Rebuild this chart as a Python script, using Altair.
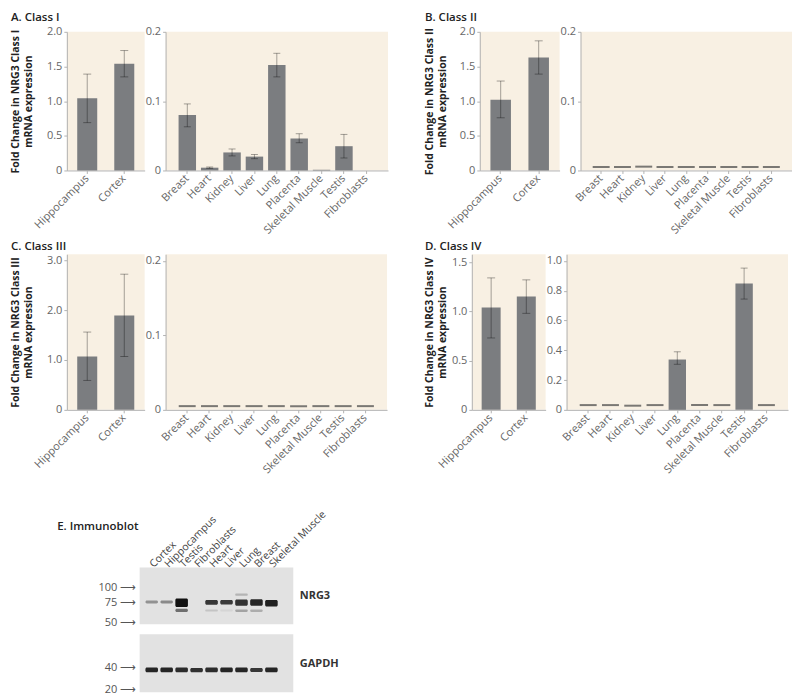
import altair as alt
import pandas as pd

FONT = "Open Sans"
BEIGE = "#f8f0e3"
BAR_GRAY = "#7b7d80"
ERR = "#000000"
ND_COLOR = "#444444"
BLOT_BG = "#e2e2e2"

brain_regions = ["Hippocampus", "Cortex"]
tissues = ["Breast", "Heart", "Kidney", "Liver", "Lung", "Placenta",
           "Skeletal Muscle", "Testis", "Fibroblasts"]

# ---- Class I ----
c1_brain_mean = [1.04, 1.54]
c1_brain_lo = [0.69, 1.35]
c1_brain_hi = [1.39, 1.73]
c1_tis_mean = [0.080, 0.004, 0.026, 0.020, 0.152, 0.046, 0.001, 0.035, 0.0]
c1_tis_lo = [0.063, 0.003, 0.021, 0.017, 0.135, 0.040, None, 0.018, None]
c1_tis_hi = [0.096, 0.005, 0.031, 0.023, 0.169, 0.053, None, 0.052, None]
c1_tis_detected = [True, True, True, True, True, True, True, True, True]

# ---- Class II ----
c2_brain_mean = [1.02, 1.63]
c2_brain_lo = [0.76, 1.39]
c2_brain_hi = [1.29, 1.87]
c2_tis_mean = [0.005, 0.005, 0.0055, 0.005, 0.005, 0.005, 0.005, 0.005, 0.005]
c2_tis_lo = [None, None, None, None, None, None, None, None, None]
c2_tis_hi = [None, None, None, None, None, None, None, None, None]
c2_tis_detected = [False, False, False, False, False, False, False, False, False]

# ---- Class III ----
c3_brain_mean = [1.07, 1.89]
c3_brain_lo = [0.59, 1.07]
c3_brain_hi = [1.56, 2.72]
c3_tis_mean = [0.005, 0.005, 0.005, 0.005, 0.005, 0.005, 0.005, 0.005, 0.005]
c3_tis_lo = [None, None, None, None, None, None, None, None, None]
c3_tis_hi = [None, None, None, None, None, None, None, None, None]
c3_tis_detected = [False, False, False, False, False, False, False, False, False]

# ---- Class IV ----
c4_brain_mean = [1.04, 1.15]
c4_brain_lo = [0.73, 0.98]
c4_brain_hi = [1.34, 1.32]
c4_tis_mean = [0.032, 0.032, 0.028, 0.032, 0.338, 0.032, 0.032, 0.848, 0.032]
c4_tis_lo = [None, None, None, None, 0.306, None, None, 0.744, None]
c4_tis_hi = [None, None, None, None, 0.390, None, None, 0.952, None]
c4_tis_detected = [False, False, False, False, True, False, False, True, False]

# ---- Immunoblot ----
lanes = ["Cortex", "Hippocampus", "Testis", "Fibroblasts", "Heart", "Liver",
         "Lung", "Breast", "Skeletal Muscle"]
nrg3_main = [0.38, 0.42, 1.0, 0.0, 0.82, 0.8, 0.84, 0.9, 0.93]
nrg3_main_lo = [73, 73, 68, 73, 71, 71.5, 69.5, 69.5, 68.5]
nrg3_main_hi = [77.5, 77.5, 80.5, 77.5, 78, 78, 79, 79.5, 78]
nrg3_lower = [0.0, 0.0, 0.55, 0.0, 0.14, 0.06, 0.3, 0.25, 0.0]
nrg3_lower_lo = [62, 62, 61.5, 62, 62, 62, 61.5, 61.5, 62]
nrg3_lower_hi = [65, 65, 65.5, 65, 64.5, 64.5, 64.5, 64.5, 65]
nrg3_upper = [0.0, 0.0, 0.0, 0.0, 0.0, 0.0, 0.22, 0.0, 0.0]
nrg3_upper_lo = [85, 85, 85, 85, 85, 85, 85, 85, 85]
nrg3_upper_hi = [89, 89, 89, 89, 89, 89, 89, 89, 89]
gapdh = [0.9, 0.9, 0.88, 0.85, 0.88, 0.9, 0.9, 0.82, 0.9]
gapdh_lo = [34, 34, 34, 34, 34, 34, 34, 34.5, 34]
gapdh_hi = [39.5, 39.5, 39.5, 39, 39.5, 39.5, 39.5, 39, 39.5]
markers_nrg3 = [100, 75, 50]
markers_gapdh = [40, 20]

LBL = "datum.value == 0 ? '0' : format(datum.value, '.1f')"


def brain_chart(mean, lo, hi, ymax, ticks, ytitle, width, height, tpad):
    df = pd.DataFrame({"region": brain_regions, "mean": mean, "lo": lo, "hi": hi})
    x = alt.X("region:N", title=None,
              scale=alt.Scale(domain=brain_regions, paddingInner=0.46, paddingOuter=0.28),
              axis=alt.Axis(labelAngle=-45, labelAlign="right", labelBaseline="middle",
                            labelPadding=3))
    ysc = alt.Scale(domain=[0, ymax], nice=False)
    yax = alt.Axis(values=ticks, labelExpr=LBL, title=ytitle, labelOverlap=False,
                   titlePadding=tpad, minExtent=22, maxExtent=22)
    base = alt.Chart(df)
    bars = base.mark_bar(color=BAR_GRAY).encode(
        x=x, y=alt.Y("mean:Q", scale=ysc, axis=yax))
    rule = base.mark_rule(color=ERR, opacity=0.35).encode(
        x=x, y=alt.Y("lo:Q", scale=ysc, axis=yax), y2="hi:Q")
    cap1 = base.mark_tick(color=ERR, opacity=0.35, size=8, thickness=1).encode(
        x=x, y=alt.Y("lo:Q", scale=ysc, axis=yax))
    cap2 = base.mark_tick(color=ERR, opacity=0.35, size=8, thickness=1).encode(
        x=x, y=alt.Y("hi:Q", scale=ysc, axis=yax))
    return alt.layer(bars, rule, cap1, cap2).properties(
        width=width, height=height, view=alt.ViewBackground(fill=BEIGE))


def tissue_chart(mean, lo, hi, detected, ymax, ticks, width, height):
    df = pd.DataFrame({"tissue": tissues, "mean": mean, "lo": lo, "hi": hi,
                       "detected": detected})
    x = alt.X("tissue:N", title=None,
              scale=alt.Scale(domain=tissues, paddingInner=0.22, paddingOuter=0.58),
              axis=alt.Axis(labelAngle=-45, labelAlign="right", labelBaseline="middle",
                            labelPadding=3))
    ysc = alt.Scale(domain=[0, ymax], nice=False)
    yax = alt.Axis(values=ticks, labelExpr=LBL, title=None, labelOverlap=False,
                   minExtent=20, maxExtent=20)
    base = alt.Chart(df)
    bars = base.transform_filter("datum.detected").mark_bar(color=BAR_GRAY).encode(
        x=x, y=alt.Y("mean:Q", scale=ysc, axis=yax))
    nd = base.transform_filter("!datum.detected").mark_tick(
        color=ND_COLOR, size=17, thickness=2).encode(
        x=x, y=alt.Y("mean:Q", scale=ysc, axis=yax))
    det = base.transform_filter("datum.detected")
    rule = det.mark_rule(color=ERR, opacity=0.35).encode(
        x=x, y=alt.Y("lo:Q", scale=ysc, axis=yax), y2="hi:Q")
    cap1 = det.mark_tick(color=ERR, opacity=0.35, size=7, thickness=1).encode(
        x=x, y=alt.Y("lo:Q", scale=ysc, axis=yax))
    cap2 = det.mark_tick(color=ERR, opacity=0.35, size=7, thickness=1).encode(
        x=x, y=alt.Y("hi:Q", scale=ysc, axis=yax))
    return alt.layer(bars, nd, rule, cap1, cap2).properties(
        width=width, height=height, view=alt.ViewBackground(fill=BEIGE))


def panel(title, brain, tissue):
    return alt.hconcat(brain, tissue, spacing=0,
                       title=alt.Title(title, anchor="start", offset=2))


def ytitle(c):
    return ["Fold Change in NRG3 Class " + c, "mRNA expression"]


pA = panel("A. Class I",
           brain_chart(c1_brain_mean, c1_brain_lo, c1_brain_hi, 2.0, [0, 0.5, 1.0, 1.5, 2.0],
                       ytitle("I"), 78, 139, 11),
           tissue_chart(c1_tis_mean, c1_tis_lo, c1_tis_hi, c1_tis_detected, 0.2, [0, 0.1, 0.2],
                        223, 139))
pB = panel("B. Class II",
           brain_chart(c2_brain_mean, c2_brain_lo, c2_brain_hi, 2.0, [0, 0.5, 1.0, 1.5, 2.0],
                       ytitle("II"), 80, 139, 10),
           tissue_chart(c2_tis_mean, c2_tis_lo, c2_tis_hi, c2_tis_detected, 0.2, [0, 0.1, 0.2],
                        212, 139))
pC = panel("C. Class III",
           brain_chart(c3_brain_mean, c3_brain_lo, c3_brain_hi, 3.12, [0, 1.0, 2.0, 3.0],
                       ytitle("III"), 78, 156, 11),
           tissue_chart(c3_tis_mean, c3_tis_lo, c3_tis_hi, c3_tis_detected, 0.209, [0, 0.1, 0.2],
                        222, 156))
pD = panel("D. Class IV",
           brain_chart(c4_brain_mean, c4_brain_lo, c4_brain_hi, 1.58, [0, 0.5, 1.0, 1.5],
                       ytitle("IV"), 74, 156, 2),
           tissue_chart(c4_tis_mean, c4_tis_lo, c4_tis_hi, c4_tis_detected, 1.045,
                        [0, 0.2, 0.4, 0.6, 0.8, 1.0], 222, 156))

row1 = alt.hconcat(pA, pB, spacing=36)
row2 = alt.hconcat(pC, pD, spacing=38)

# ---- blot data ----
rows_top = []
rows_bot = []
for i, lane in enumerate(lanes):
    rows_top.append({"lane": lane, "k_lo": nrg3_main_lo[i], "k_hi": nrg3_main_hi[i], "a": nrg3_main[i]})
    rows_top.append({"lane": lane, "k_lo": nrg3_lower_lo[i], "k_hi": nrg3_lower_hi[i], "a": nrg3_lower[i]})
    rows_top.append({"lane": lane, "k_lo": nrg3_upper_lo[i], "k_hi": nrg3_upper_hi[i], "a": nrg3_upper[i]})
    rows_bot.append({"lane": lane, "k_lo": gapdh_lo[i], "k_hi": gapdh_hi[i], "a": gapdh[i]})
df_top = pd.DataFrame(rows_top)
df_bot = pd.DataFrame(rows_bot)

xs = alt.Scale(domain=lanes, paddingInner=0.16, paddingOuter=0.713, align=0.27)


def blot(df, ydomain, markers, right_title, top_axis, height):
    if top_axis:
        xax = alt.Axis(orient="top", ticks=False, domain=False,
                       labelAngle=-45, labelAlign="left", labelBaseline="middle",
                       labelPadding=2, labelFontSize=10.5, labelColor="#444", title=None,
                       labelOverlap=False, labelBound=False, labelLimit=200)
    else:
        xax = None
    ysc = alt.Scale(type="log", domain=ydomain, nice=False)
    base = alt.Chart(df)
    bands = base.mark_rect(color="#111111", cornerRadius=1.5).encode(
        x=alt.X("lane:N", scale=xs, axis=xax),
        y=alt.Y("k_lo:Q", scale=ysc,
                axis=alt.Axis(orient="left", values=markers,
                              labelExpr="datum.value + ' \u27f6'", ticks=False, domain=False,
                              title=None, labelFontSize=11, labelColor="#555",
                              labelOverlap=False, labelPadding=4,
                              minExtent=50, maxExtent=50)),
        y2="k_hi:Q",
        opacity=alt.Opacity("a:Q", scale=None))
    lab = base.mark_rect(opacity=0).encode(
        x=alt.X("lane:N", scale=xs, axis=xax),
        y=alt.Y("k_lo:Q", scale=ysc,
                axis=alt.Axis(orient="right", labels=False, ticks=False, domain=False,
                              title=right_title, titleAngle=0, titleAlign="left",
                              titleBaseline="middle", titlePadding=6, titleFontSize=11,
                              titleFontWeight="bold", titleColor="#333",
                              minExtent=0, maxExtent=0)),
        y2="k_hi:Q")
    return alt.layer(bands, lab).resolve_axis(y="independent").properties(
        width=154, height=height, view=alt.ViewBackground(fill=BLOT_BG))


upper = blot(df_top, [48, 150], markers_nrg3, "NRG3", True, 57)
lower = blot(df_bot, [18.3, 112], markers_gapdh, "GAPDH", False, 58)

spacer = alt.Chart(pd.DataFrame({"s": [0]})).mark_point(opacity=0).encode(
    x=alt.value(0), y=alt.value(0)).properties(width=2, height=2)

blots = alt.vconcat(upper, lower, spacing=7)
pE = alt.hconcat(spacer, blots, spacing=20,
                 title=alt.Title("E. Immunoblot", anchor="start", dx=-7, dy=24, offset=0))

chart = alt.vconcat(alt.vconcat(row1, row2, spacing=4), pE, spacing=33).properties(
    padding={"left": 2, "top": 3, "right": 0, "bottom": 0}
).configure(font=FONT).configure_view(strokeWidth=0).configure_axis(
    labelFont=FONT, titleFont=FONT, domainColor="#b3b3b3", tickColor="#b3b3b3",
    tickSize=3, labelColor="#666666", labelFontSize=11, grid=False, labelOverlap=False
).configure_axisY(
    titleFontSize=10.5, titleFontWeight="bold", titleColor="#222222", titleLineHeight=13
).configure_title(
    font=FONT, fontSize=11.5, fontWeight=600, color="#222222", anchor="start"
)

chart.save("out.html", embed_options={"renderer": "svg", "actions": False})
